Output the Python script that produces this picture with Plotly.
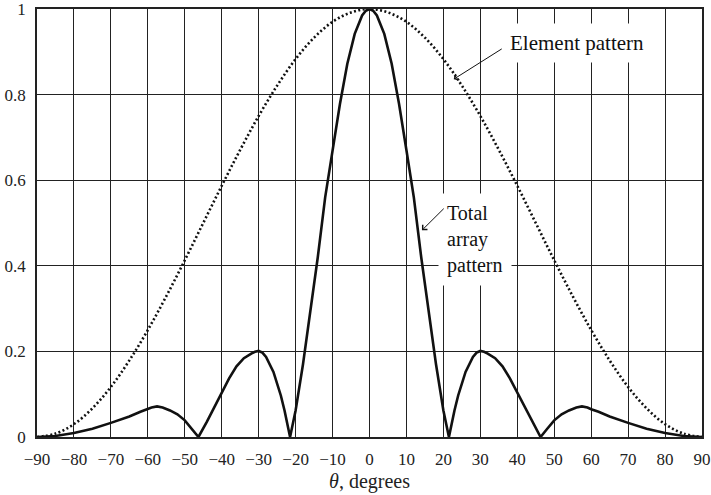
import plotly.graph_objects as go

# angles in degrees
theta_elem = [-90, -85, -80, -75, -70, -65, -60, -55, -50, -45, -40, -35, -30, -25, -20, -15, -10, -5,
              0, 5, 10, 15, 20, 25, 30, 35, 40, 45, 50, 55, 60, 65, 70, 75, 80, 85, 90]
elem_pattern = [0.0, 0.008, 0.030, 0.067, 0.117, 0.179, 0.250, 0.329, 0.413, 0.500, 0.587, 0.671, 0.750,
                0.821, 0.883, 0.933, 0.970, 0.992,
                1.0, 0.992, 0.970, 0.933, 0.883, 0.821, 0.750, 0.671, 0.587, 0.500, 0.413, 0.329, 0.250,
                0.179, 0.117, 0.067, 0.030, 0.008, 0.0]

theta_total = [-90, -85, -80, -75, -70, -65, -62, -60, -59, -57.5, -56, -54, -52, -50, -48, -46.3,
               -44, -42, -40, -38, -36, -34, -32, -31, -30, -29, -28, -26, -24, -23, -21.5,
               -20, -18, -16, -14, -12, -10, -8, -6, -4, -2, -1,
               0, 1, 2, 4, 6, 8, 10, 12, 14, 16, 18, 20,
               21.5, 23, 24, 26, 28, 29, 30, 31, 32, 34, 36, 38, 40, 42, 44,
               46.3, 48, 50, 52, 54, 56, 57.5, 59, 60, 62, 65, 70, 75, 80, 85, 90]
total_pattern = [0.0, 0.0025, 0.0094, 0.0195, 0.033, 0.048, 0.059, 0.065, 0.069, 0.0715, 0.069, 0.062,
                 0.053, 0.039, 0.018, 0.0,
                 0.036, 0.070, 0.104, 0.137, 0.165, 0.184, 0.195, 0.199, 0.201, 0.197, 0.187, 0.152,
                 0.097, 0.062, 0.0,
                 0.062, 0.170, 0.295, 0.420, 0.560, 0.670, 0.778, 0.872, 0.942, 0.985, 0.996,
                 1.0, 0.996, 0.985, 0.942, 0.872, 0.778, 0.670, 0.560, 0.420, 0.295, 0.170, 0.062,
                 0.0, 0.062, 0.097, 0.152, 0.187, 0.197, 0.201, 0.199, 0.195, 0.184, 0.165, 0.137, 0.104,
                 0.070, 0.036,
                 0.0, 0.018, 0.039, 0.053, 0.062, 0.069, 0.0715, 0.069, 0.065, 0.059, 0.048, 0.033,
                 0.0195, 0.0094, 0.0025, 0.0]

x_ticks = list(range(-90, 91, 10))
y_ticks = [0, 0.2, 0.4, 0.6, 0.8, 1]
y_tick_labels = ["0", "0.2", "0.4", "0.6", "0.8", "1"]

font_name = "Liberation Serif"

fig = go.Figure()
fig.add_trace(go.Scatter(x=theta_elem, y=elem_pattern, mode="lines", line_shape="spline",
                         line=dict(color="#111111", width=2.6, dash="2px,2.4px"), name="Element pattern"))
fig.add_trace(go.Scatter(x=theta_total, y=total_pattern, mode="lines",
                         line=dict(color="#111111", width=2.6), name="Total array pattern"))

fig.update_layout(
    width=711,
    height=495,
    margin=dict(l=37, r=9, t=9, b=58),
    paper_bgcolor="white",
    plot_bgcolor="white",
    showlegend=False,
    font=dict(family=font_name, size=17, color="#222222"),
    xaxis=dict(
        range=[-90, 90],
        tickvals=x_ticks,
        showgrid=True, gridcolor="#222222", gridwidth=1,
        zeroline=False, automargin=False,
        showline=True, linecolor="#222222", linewidth=1.5, mirror=True,
        ticks="", ticklabelstandoff=6, ticklabeloverflow="allow",
        tickfont=dict(family=font_name, size=17, color="#222222"),
        title=dict(text="<i>θ</i>, degrees", font=dict(family=font_name, size=20, color="#222222"),
                   standoff=6),
    ),
    yaxis=dict(
        range=[0, 1],
        tickvals=y_ticks, ticktext=y_tick_labels,
        showgrid=True, gridcolor="#222222", gridwidth=1,
        zeroline=False, automargin=False,
        showline=True, linecolor="#222222", linewidth=1.5, mirror=True,
        ticks="", ticklabelstandoff=6, ticklabeloverflow="allow",
        tickfont=dict(family=font_name, size=17, color="#222222"),
    ),
    annotations=[
        # labels with white boxes covering the grid
        dict(text="Element pattern", x=56.1, y=0.92, xref="x", yref="y",
             xanchor="center", yanchor="middle", showarrow=False,
             bgcolor="white", borderpad=7, font=dict(family=font_name, size=21, color="#111111")),
        dict(text="Total<br>array<br>pattern", x=18.6, y=0.57, xref="x", yref="y",
             xanchor="left", yanchor="top", align="left", showarrow=False,
             bgcolor="white", borderpad=8, font=dict(family=font_name, size=20, color="#111111")),
        # arrows
        dict(text="", x=22.8, y=0.836, ax=36.2, ay=0.909, xref="x", yref="y", axref="x", ayref="y",
             showarrow=True, arrowhead=4, arrowsize=1.3, arrowwidth=1, arrowcolor="#111111"),
        dict(text="", x=14.2, y=0.483, ax=20.5, ay=0.537, xref="x", yref="y", axref="x", ayref="y",
             showarrow=True, arrowhead=4, arrowsize=1.3, arrowwidth=1, arrowcolor="#111111"),
    ],
)

# drop the default page margin so the figure sits at the window's corner
fig.write_html("out.html", config={"displayModeBar": False},
               post_script="document.body.style.margin='0';")
